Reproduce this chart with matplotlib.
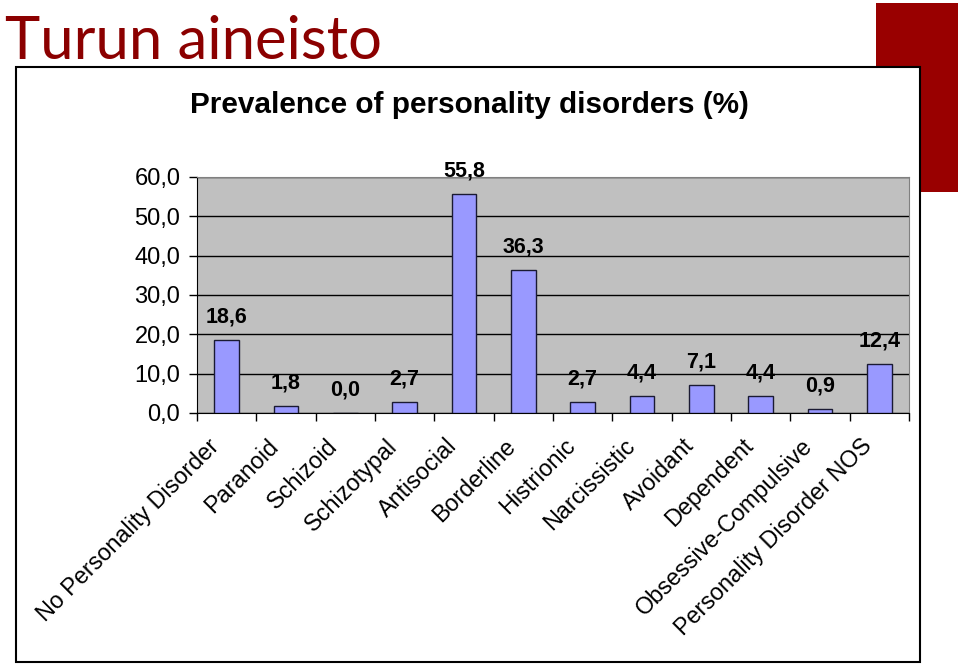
import matplotlib
matplotlib.use('Agg')
import matplotlib.pyplot as plt
import matplotlib.transforms as mtransforms
from matplotlib.patches import Rectangle

# Data
categories = ['No Personality Disorder', 'Paranoid', 'Schizoid', 'Schizotypal',
              'Antisocial', 'Borderline', 'Histrionic', 'Narcissistic',
              'Avoidant', 'Dependent', 'Obsessive-Compulsive',
              'Personality Disorder NOS']
prevalence = [18.6, 1.8, 0.0, 2.7, 55.8, 36.3, 2.7, 4.4, 7.1, 4.4, 0.9, 12.4]
yticks = [0, 10, 20, 30, 40, 50, 60]

plt.rcParams['font.family'] = ['Liberation Sans', 'DejaVu Sans']

fig = plt.figure(figsize=(9.6, 6.65), dpi=100)

# red decoration block top right
fig.patches.append(Rectangle((876/960, 1 - 192/665), 82/960, 189/665,
                             transform=fig.transFigure, facecolor='#990000',
                             edgecolor='none', zorder=0))
# white chart frame
fig.patches.append(Rectangle((16/960, 1 - 662/665), 904/960, 595/665,
                             transform=fig.transFigure, facecolor='white',
                             edgecolor='black', linewidth=1.5, zorder=1))

fig.text(5/960, 1 - 59/665, 'Turun aineisto', color='#8b0000', fontsize=43,
         family=['Lato', 'DejaVu Sans'], ha='left', va='baseline')
fig.text(469/960, 1 - 105/665, 'Prevalence of personality disorders (%)',
         fontsize=21.4, fontweight='bold', ha='center', va='center')

ax = fig.add_axes([197/960, 1 - 413/665, 712/960, 236/665])
ax.set_zorder(5)
ax.set_facecolor('#c0c0c0')

x = list(range(len(categories)))
bars = ax.bar(x, prevalence, width=0.42, color='#9999ff', edgecolor='#1a1a33',
              linewidth=1, zorder=3)

for xi, v in zip(x, prevalence):
    ax.annotate(f'{v:.1f}'.replace('.', ','), (xi, v), xytext=(0, 9),
                textcoords='offset points', ha='center', va='bottom',
                fontsize=15.5, fontweight='bold')

ax.set_xlim(-0.5, len(categories) - 0.5)
ax.set_ylim(0, 60)
ax.set_yticks(yticks)
ax.set_yticklabels([f'{t:.1f}'.replace('.', ',') for t in yticks], fontsize=17)
ax.yaxis.grid(True, color='black', linewidth=1)
ax.set_axisbelow(True)

ax.set_xticks(x)
ax.set_xticklabels(categories, rotation=45, ha='right', va='top',
                   rotation_mode='anchor', fontsize=16.8)
ax.tick_params(axis='x', which='major', length=0, pad=14)
shift = mtransforms.ScaledTranslation(-19/100, -2/100, fig.dpi_scale_trans)
for lbl in ax.get_xticklabels():
    lbl.set_transform(lbl.get_transform() + shift)
ax.set_xticks([i - 0.5 for i in range(len(categories) + 1)], minor=True)
ax.tick_params(axis='x', which='minor', length=6, direction='out', width=1)
ax.tick_params(axis='y', length=6, direction='out', width=1, pad=6)

ax.spines['top'].set_color('#808080')
ax.spines['right'].set_color('#808080')
ax.spines['left'].set_color('black')
ax.spines['bottom'].set_color('black')

plt.savefig('out.png', dpi=100)
